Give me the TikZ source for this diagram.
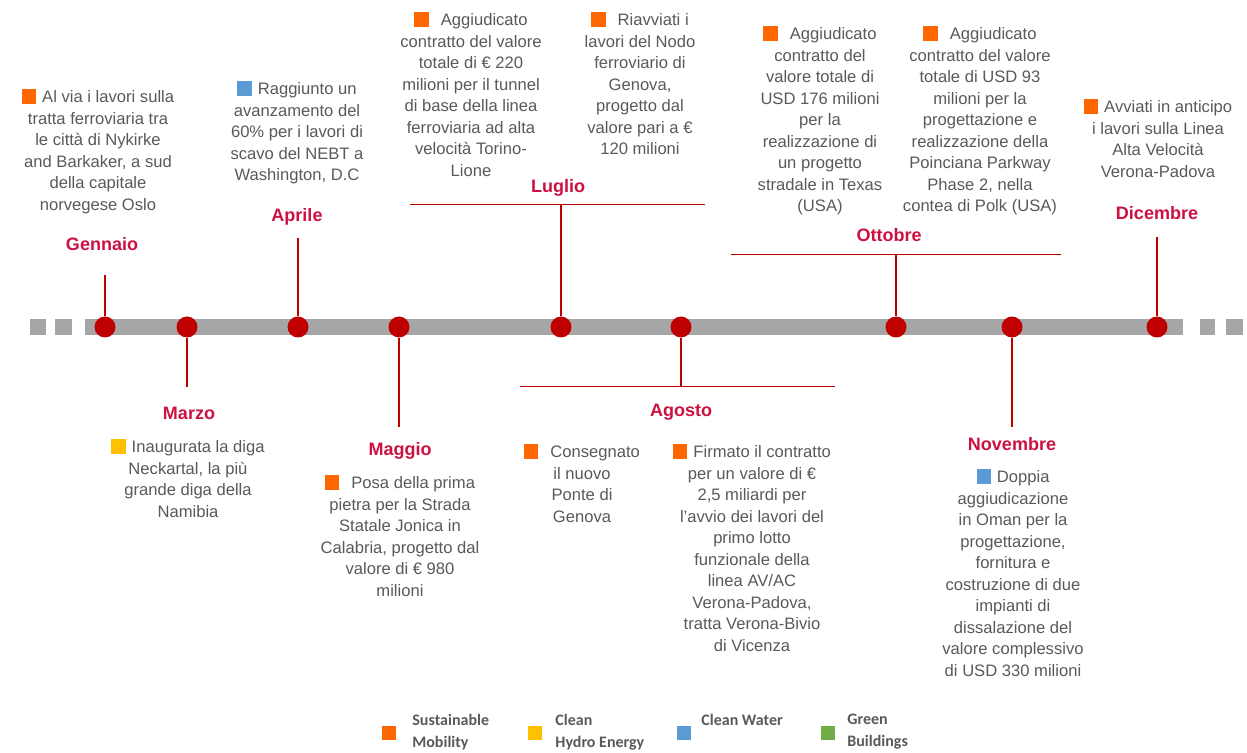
\documentclass[tikz,border=0pt]{standalone}
\usepackage{fontspec}
\setmainfont{Liberation Sans}
\newfontfamily\legendfont{Carlito}
\definecolor{txtgray}{HTML}{595959}
\definecolor{monthred}{HTML}{CC1142}
\definecolor{dotred}{HTML}{C00000}
\definecolor{bargray}{HTML}{A6A6A6}
\definecolor{mobility}{HTML}{FF6600}
\definecolor{hydro}{HTML}{FFC000}
\definecolor{water}{HTML}{5B9BD5}
\definecolor{buildgreen}{HTML}{70AD47}
\newcommand{\catbox}[1]{{\color{#1}\rule[-0.5pt]{7.2pt}{7.2pt}}}

\begin{document}
\begin{tikzpicture}[x=0.5pt, y=-0.5pt]
    \tikzstyle{event} = [text=txtgray, align=center, inner sep=0pt, anchor=north, font=\fontsize{8.3}{10.75}\selectfont]
    \tikzstyle{month} = [text=monthred, inner sep=0pt, font=\fontsize{9}{10}\selectfont\bfseries]
    \tikzstyle{dot} = [circle, fill=dotred, minimum size=10.5pt, inner sep=0pt]
    \tikzstyle{stem} = [draw=dotred, line width=0.7pt]
    \tikzstyle{legbox} = [rectangle, minimum size=7pt, inner sep=0pt]
    \tikzstyle{legtext} = [text=txtgray, align=left, anchor=north west, inner sep=0pt, font=\legendfont\bfseries\fontsize{8}{11}\selectfont]

    \useasboundingbox (0,0) rectangle (1247,753);

    % timeline bar
    \fill[bargray] (30,319) rectangle (46,335);
    \fill[bargray] (55,319) rectangle (72,335);
    \fill[bargray] (1200,319) rectangle (1215,335);
    \fill[bargray] (1226,319) rectangle (1243,335);
    \fill[bargray] (85,319) rectangle (1183,335);

    % dots
    \node[dot] (gen) at (105,327) {};
    \node[dot] (mar) at (187,327) {};
    \node[dot] (apr) at (298,327) {};
    \node[dot] (mag) at (399,327) {};
    \node[dot] (lug) at (561,327) {};
    \node[dot] (ago) at (681,327) {};
    \node[dot] (ott) at (896,327) {};
    \node[dot] (nov) at (1012,327) {};
    \node[dot] (dic) at (1157,327) {};

    % stem ends
    \coordinate (gen-end) at (105,275);
    \coordinate (mar-end) at (187,387);
    \coordinate (apr-end) at (298,238);
    \coordinate (mag-end) at (399,427);
    \coordinate (lug-end) at (561,205);
    \coordinate (ago-end) at (681,387);
    \coordinate (ott-end) at (896,255);
    \coordinate (nov-end) at (1012,427);
    \coordinate (dic-end) at (1157,237);
    \coordinate (lug-l) at (410,205);
    \coordinate (lug-r) at (705,205);
    \coordinate (ago-l) at (520,387);
    \coordinate (ago-r) at (835,387);
    \coordinate (ott-l) at (731,255);
    \coordinate (ott-r) at (1061,255);

    \foreach \m in {gen,mar,apr,mag,lug,ago,ott,nov,dic}
        \draw[stem] (\m) -- (\m-end);
    \draw[stem, line width=0.5pt] (lug-l) -- (lug-r);
    \draw[stem, line width=0.5pt] (ago-l) -- (ago-r);
    \draw[stem, line width=0.5pt] (ott-l) -- (ott-r);

    % months
    \node[month] (m-gen) at (102,244) {Gennaio};
    \node[month] (m-mar) at (189,413) {Marzo};
    \node[month] (m-apr) at (297,217) {Aprile};
    \node[month] (m-mag) at (400,451) {Maggio};
    \node[month] (m-lug) at (558,188) {Luglio};
    \node[month] (m-ago) at (681,412) {Agosto};
    \node[month] (m-ott) at (889,235) {Ottobre};
    \node[month] (m-nov) at (1012,444) {Novembre};
    \node[month] (m-dic) at (1157,213) {Dicembre};

    % events above
    \node[event] (e-gen) at (98,89) {\catbox{mobility}\hspace{3pt}Al via i lavori sulla\\ tratta ferroviaria tra\\ le città di Nykirke\\ and Barkaker, a sud\\ della capitale\\ norvegese Oslo};
    \node[event] (e-apr) at (297,81) {\catbox{water}\hspace{3pt}Raggiunto un\\ avanzamento del\\ 60\% per i lavori di\\ scavo del NEBT a\\ Washington, D.C};
    \node[event] (e-lug1) at (471,12) {\catbox{mobility}\hspace{6pt}Aggiudicato\\ contratto del valore\\ totale di € 220\\ milioni per il tunnel\\ di base della linea\\ ferroviaria ad alta\\ velocità Torino-\\ Lione};
    \node[event] (e-lug2) at (640,12) {\catbox{mobility}\hspace{6pt}Riavviati i\\ lavori del Nodo\\ ferroviario di\\ Genova,\\ progetto dal\\ valore pari a €\\ 120 milioni};
    \node[event] (e-ott1) at (820,26) {\catbox{mobility}\hspace{6pt}Aggiudicato\\ contratto del\\ valore totale di\\ USD 176 milioni\\ per la\\ realizzazione di\\ un progetto\\ stradale in Texas\\ (USA)};
    \node[event] (e-ott2) at (980,26) {\catbox{mobility}\hspace{6pt}Aggiudicato\\ contratto del valore\\ totale di USD 93\\ milioni per la\\ progettazione e\\ realizzazione della\\ Poinciana Parkway\\ Phase 2, nella\\ contea di Polk (USA)};
    \node[event] (e-dic) at (1158,99) {\catbox{mobility}\hspace{3pt}Avviati in anticipo\\ i lavori sulla Linea\\ Alta Velocità\\ Verona-Padova};

    % events below
    \node[event] (e-mar) at (188,439) {\catbox{hydro}\hspace{3pt}Inaugurata la diga\\ Neckartal, la più\\ grande diga della\\ Namibia};
    \node[event] (e-mag) at (400,475) {\catbox{mobility}\hspace{6pt}Posa della prima\\ pietra per la Strada\\ Statale Jonica in\\ Calabria, progetto dal\\ valore di € 980\\ milioni};
    \node[event] (e-ago1) at (582,444) {\catbox{mobility}\hspace{6pt}Consegnato\\ il nuovo\\ Ponte di\\ Genova};
    \node[event] (e-ago2) at (752,444) {\catbox{mobility}\hspace{3pt}Firmato il contratto\\ per un valore di €\\ 2,5 miliardi per\\ l'avvio dei lavori del\\ primo lotto\\ funzionale della\\ linea AV/AC\\ Verona-Padova,\\ tratta Verona-Bivio\\ di Vicenza};
    \node[event] (e-nov) at (1013,469) {\catbox{water}\hspace{3pt}Doppia\\ aggiudicazione\\ in Oman per la\\ progettazione,\\ fornitura e\\ costruzione di due\\ impianti di\\ dissalazione del\\ valore complessivo\\ di USD 330 milioni};

    % legend
    \node[legbox, fill=mobility] (k1) at (389,733) {};
    \node[legbox, fill=hydro] (k2) at (535,733) {};
    \node[legbox, fill=water] (k3) at (684,733) {};
    \node[legbox, fill=buildgreen] (k4) at (828,733) {};
    \node[legtext] (t1) at (412,714) {Sustainable\\ Mobility};
    \node[legtext] (t2) at (555,714) {Clean\\ Hydro Energy};
    \node[legtext] (t3) at (701,714) {Clean Water};
    \node[legtext] (t4) at (847,714) {Green\\ Buildings};
\end{tikzpicture}
\end{document}
